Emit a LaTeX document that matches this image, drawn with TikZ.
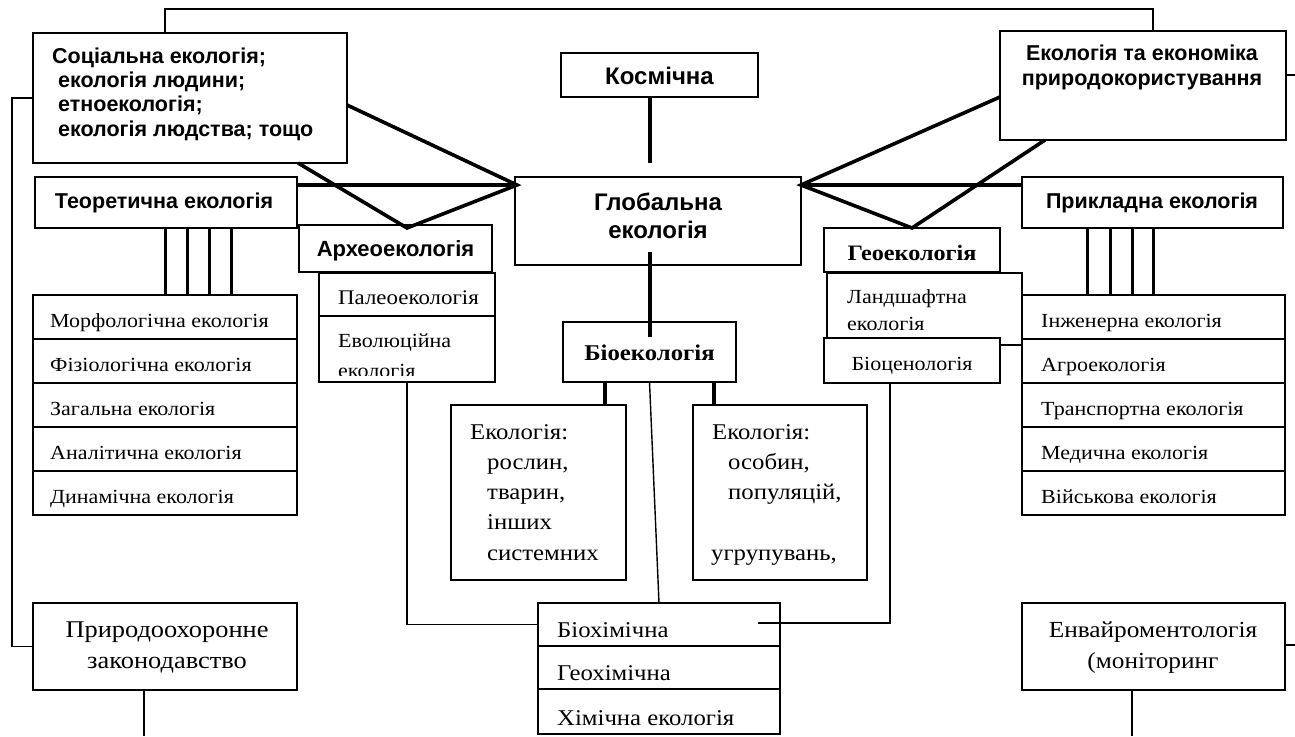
\documentclass[tikz,border=0pt]{standalone}
\usepackage{fontspec}
\setmainfont{Liberation Serif}[FakeStretch=1.1]
\newfontfamily\sansfam{Liberation Sans}
\usetikzlibrary{calc}
\newcommand\sz[1]{\fontsize{#1}{#1}\selectfont}
\newcommand\serifsz{\sz{20}}
\newcommand\sansbf{\sansfam\bfseries\sz{21.5}}
\newcommand\serifbf{\bfseries\sz{22.5}}
\begin{document}
\begin{tikzpicture}[x=1pt,y=-1pt,
  box/.style={draw, line width=2pt, fill=white, inner sep=0pt, outer sep=0pt},
  heavy/.style={line width=3.6pt},
  quad/.style={line width=3pt},
  thin/.style={line width=1.8pt},
  fine/.style={line width=1.4pt},
  lt/.style={inner sep=0pt, anchor=base west, font=\serifsz},
  ct/.style={inner sep=0pt, anchor=base, font=\serifsz},
  sbl/.style={inner sep=0pt, anchor=base west, font=\sansbf},
  sbc/.style={inner sep=0pt, anchor=base, font=\sansbf},
  rbc/.style={inner sep=0pt, anchor=base, font=\serifbf}]
\useasboundingbox (0,0) rectangle (1295,736);

% ---------- upper row ----------
\node[box, minimum width=314pt, minimum height=130pt] (soc) at (190,98) {};
\node[sbl] (soc1) at (52,63) {Соціальна екологія;};
\node[sbl] (soc2) at (58,87) {екологія людини;};
\node[sbl] (soc3) at (58,111) {етноекологія;};
\node[sbl] (soc4) at (58,136) {екологія людства; тощо};

\node[box, minimum width=197pt, minimum height=44pt] (cosm) at (659.5,75) {};
\node[sbc, font=\sansfam\bfseries\sz{24}] (cosmt) at (659.5,84) {Космічна};

\node[box, minimum width=286pt, minimum height=109pt] (econ) at (1143,85.5) {};
\node[sbc] (econ1) at (1142,60) {Екологія та економіка};
\node[sbc] (econ2) at (1142,85) {природокористування};

\node[box, minimum width=286pt, minimum height=88pt] (glob) at (658,221) {};
\node[sbc, font=\sansfam\bfseries\sz{24}] (glob1) at (658,210) {Глобальна};
\node[sbc, font=\sansfam\bfseries\sz{24}] (glob2) at (658,238) {екологія};

\node[box, minimum width=262pt, minimum height=51pt] (theo) at (166,202.5) {};
\node[sbc] (theot) at (164,208) {Теоретична екологія};

\node[box, minimum width=261pt, minimum height=51pt] (appl) at (1152.5,202.5) {};
\node[sbc] (applt) at (1152,208) {Прикладна екологія};

% ---------- archaeo branch ----------
\node[box, minimum width=193pt, minimum height=47pt] (archeo) at (395.5,248.5) {};
\node[sbc, font=\sansfam\bfseries\sz{22}] (archeot) at (395.5,256) {Археоекологія};
\node[box, minimum width=176pt, minimum height=43pt] (paleo1) at (407,294.5) {};
\node[lt, font=\sz{20.8}] (paleo1t) at (338,304) {Палеоекологія};
\node[box, minimum width=176pt, minimum height=66pt] (paleo2) at (407,349) {};
\node[lt] (paleo2t) at (338,347) {Еволюційна};
\begin{scope}
  \clip (319,316) rectangle (495,375);
  \node[lt] (paleo2u) at (338,377) {екологія};
\end{scope}

% ---------- geo branch ----------
\node[box, minimum width=176pt, minimum height=44pt] (geo) at (912,250) {};
\node[rbc, font=\bfseries\sz{22}] (geot) at (912,260) {Геоекологія};
\node[box, minimum width=195pt, minimum height=72pt] (land) at (924.5,309) {};
\node[lt] (land1) at (847,303) {Ландшафтна};
\node[lt] (land2) at (847,330) {екологія};
\node[box, minimum width=176pt, minimum height=45pt] (bioc) at (912,360.5) {};
\node[ct] (bioct) at (912,370) {Біоценологія};

% ---------- bio branch ----------
\node[box, minimum width=173pt, minimum height=60pt] (bio) at (649.5,352) {};
\node[rbc] (biot) at (649.5,360) {Біоекологія};

\tikzset{eco/.style={lt, font=\sz{22.5}}}
\node[box, minimum width=175pt, minimum height=175pt] (ecoL) at (538.5,492.5) {};
\node[eco] (ecoL1) at (470,439) {Екологія:};
\node[eco] (ecoL2) at (487,469) {рослин,};
\node[eco] (ecoL3) at (487,499) {тварин,};
\node[eco] (ecoL4) at (487,529) {інших};
\node[eco] (ecoL5) at (487,560) {системних};

\node[box, minimum width=174pt, minimum height=175pt] (ecoR) at (780,492.5) {};
\node[eco] (ecoR1) at (712,439) {Екологія:};
\node[eco] (ecoR2) at (728,469) {особин,};
\node[eco] (ecoR3) at (728,499) {популяцій,};
\node[eco] (ecoR5) at (711,560) {угрупувань,};

% ---------- side lists ----------
\foreach \t [count=\i from 0] in {Морфологічна екологія, Фізіологічна екологія,
    Загальна екологія, Аналітична екологія, Динамічна екологія} {
  \node[box, minimum width=264pt, minimum height=44pt] (tl\i) at (165,317+44*\i) {};
  \node[lt] (tlt\i) at (50,327+44*\i) {\t};
}
\foreach \t [count=\i from 0] in {Інженерна екологія, Агроекологія,
    Транспортна екологія, Медична екологія, Військова екологія} {
  \node[box, minimum width=263pt, minimum height=44pt] (ar\i) at (1153.5,317+44*\i) {};
  \node[lt] (art\i) at (1041,327+44*\i) {\t};
}

% ---------- bottom row ----------
\node[box, minimum width=264pt, minimum height=87pt] (prir) at (165,646.5) {};
\node[ct, font=\sz{24}] (prir1) at (167,637) {Природоохоронне};
\node[ct, font=\sz{24}] (prir2) at (167,668) {законодавство};

\tikzset{chem/.style={lt, font=\sz{22.5}}}
\node[box, minimum width=242pt, minimum height=43pt] (bx0) at (659,624.5) {};
\node[chem] (bxt0) at (557,637) {Біохімічна};
\node[box, minimum width=242pt, minimum height=43pt] (bx1) at (659,667.5) {};
\node[chem] (bxt1) at (557,680) {Геохімічна};
\node[box, minimum width=242pt, minimum height=45pt] (bx2) at (659,711.5) {};
\node[chem] (bxt2) at (557,725) {Хімічна екологія};

\node[box, minimum width=263pt, minimum height=87pt] (env) at (1153.5,646.5) {};
\node[ct, font=\sz{23}] (env1) at (1153,637) {Енвайроментологія};
\node[ct, font=\sz{23}] (env2) at (1153,668) {(моніторинг};

% ---------- connectors ----------
% frame along the top and the left side
\coordinate (tlc) at (165,9);
\coordinate (trc) at (1153,9);
\draw[thin] (tlc |- soc.north) -- (tlc) -- (trc) -- (trc |- econ.north);
\coordinate (lbc) at (12,0);
\draw[thin] (soc.west) -- (soc.west -| lbc) -- (lbc |- prir.west) -- (prir.west);
\coordinate (re1) at (1295,75);
\draw[thin] (econ.east |- re1) -- (re1);
\coordinate (re2) at (1295,645);
\draw[thin] (env.east |- re2) -- (re2);
\coordinate (bb1) at (144,736);
\draw[thin] (prir.south -| bb1) -- (bb1);
\coordinate (bb2) at (1132,736);
\draw[thin] (env.south -| bb2) -- (bb2);

% central axis
\coordinate (cg) at (650,163);
\draw[heavy] (cosm.south -| cg) -- (cg);
\coordinate (gb1) at (650,252);
\coordinate (gb2) at (650,337);
\draw[heavy] (gb1) -- (gb2);

% left fan
\coordinate (gA) at ($(glob.north west)+(2,8)$);
\coordinate (socE) at ($(soc.north east)+(0,72)$);
\coordinate (socS) at ($(soc.south west)+(265,0)$);
\coordinate (apL) at (407,228);
\draw[heavy, line join=miter] (socE) -- (gA) -- (apL) -- (socS);
\draw[heavy] (theo.east |- gA) -- (gA);

% right fan
\coordinate (gB) at ($(glob.north east)+(0,8)$);
\coordinate (econW) at ($(econ.north west)+(0,66)$);
\coordinate (econS) at ($(econ.south west)+(45,0)$);
\draw[heavy, line join=miter] (econW) -- (gB) -- (geo.north) -- (econS);
\draw[heavy] (gB) -- (appl.west |- gB);

% links to the side lists
\foreach \x in {165,187,209,231} {
  \coordinate (qx) at (\x,0);
  \draw[quad] (qx |- theo.south) -- (qx |- tl0.north);
}
\foreach \x in {1087,1110,1132,1153} {
  \coordinate (qx) at (\x,0);
  \draw[quad] (qx |- appl.south) -- (qx |- ar0.north);
}

% bio branch
\coordinate (bl) at (605,0);
\coordinate (br) at (714,0);
\draw[heavy] (bl |- bio.south) -- (bl |- ecoL.north);
\draw[heavy] (br |- bio.south) -- (br |- ecoR.north);
\draw[fine] (bio.south) -- (bx0.north);

% chemistry links
\draw[thin] (paleo2.south) |- (bx0.west);
\coordinate (bxr) at (758,623);
\coordinate (bcx) at (890,0);
\draw[thin] (bcx |- bioc.south) |- (bxr);
\end{tikzpicture}
\end{document}
